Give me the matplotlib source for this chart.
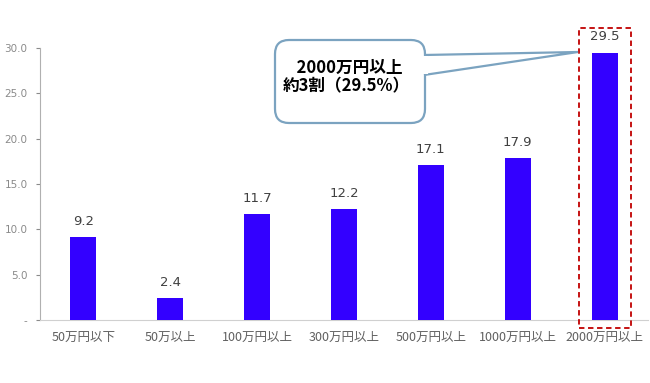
import numpy as np
import matplotlib.pyplot as plt
import matplotlib.transforms as mtransforms
from matplotlib.patches import FancyBboxPatch, Polygon, Rectangle

plt.rcParams['font.family'] = ['Noto Sans CJK JP', 'DejaVu Sans']

categories = ['50万円以下', '50万以上', '100万円以上', '300万円以上', '500万円以上', '1000万円以上', '2000万円以上']
values = [9.2, 2.4, 11.7, 12.2, 17.1, 17.9, 29.5]
yticks = [0, 5, 10, 15, 20, 25, 30]
callout_text = '  2000万円以上\n約3割（29.5%）'

fig = plt.figure(figsize=(6.5, 3.83), dpi=100)
ax = fig.add_axes([40/650, 1-320/383, 608/650, 272/383])

x = np.arange(len(categories))
ax.bar(x, values, width=0.3, color='#3300ff', zorder=3)
for xi, v in zip(x, values):
    ax.text(xi, v + 1.0, '%.1f' % v, ha='center', va='bottom', fontsize=9.5, color='#404040',
            family='DejaVu Sans')

ax.set_xlim(-0.5, len(categories) - 0.5)
ax.set_ylim(0, 30)
ax.set_yticks(yticks)
ax.set_yticklabels(['-' if t == 0 else '%.1f' % t for t in yticks], family='DejaVu Sans')
ax.set_xticks(x)
ax.set_xticklabels(categories)
ax.tick_params(axis='y', colors='#8a8a8a', labelsize=7.5, length=3, width=0.8, pad=6)
ax.tick_params(axis='x', colors='#606060', labelsize=9, length=0, pad=8)
for s in ['top', 'right']:
    ax.spines[s].set_visible(False)
ax.spines['left'].set_color('#b0b0b0')
ax.spines['bottom'].set_color('#d0d0d0')

# dashed red frame around the last bar
ax.add_patch(Rectangle((len(categories) - 1 - 0.29, -0.9), 0.6, 33.1, fill=False,
                       edgecolor='#c00000', linestyle=(0, (3, 2)), linewidth=1.3,
                       clip_on=False, zorder=4))

# speech-bubble callout (display pixel coords, y from bottom)
H = 383
pix = mtransforms.IdentityTransform()
box = FancyBboxPatch((275, H - 123), 150, 83, boxstyle='round,pad=0,rounding_size=14',
                     facecolor='white', edgecolor='#7ba3c0', linewidth=1.6, transform=pix)
fig.patches.append(box)
tail = Polygon([(424, H - 55), (578, H - 52), (424, H - 75)], closed=False,
               facecolor='white', edgecolor='#7ba3c0', linewidth=1.6, transform=pix)
fig.patches.append(tail)
fig.patches.append(Polygon([(423, H - 56), (428, H - 56), (428, H - 74), (423, H - 74)],
                           closed=True, facecolor='white', edgecolor='none', transform=pix))
fig.text(346 / 650, 1 - 77 / H, callout_text, ha='center', va='center', fontsize=12,
         fontweight='bold', color='black', linespacing=1.0)

fig.savefig('out.png', dpi=100)
